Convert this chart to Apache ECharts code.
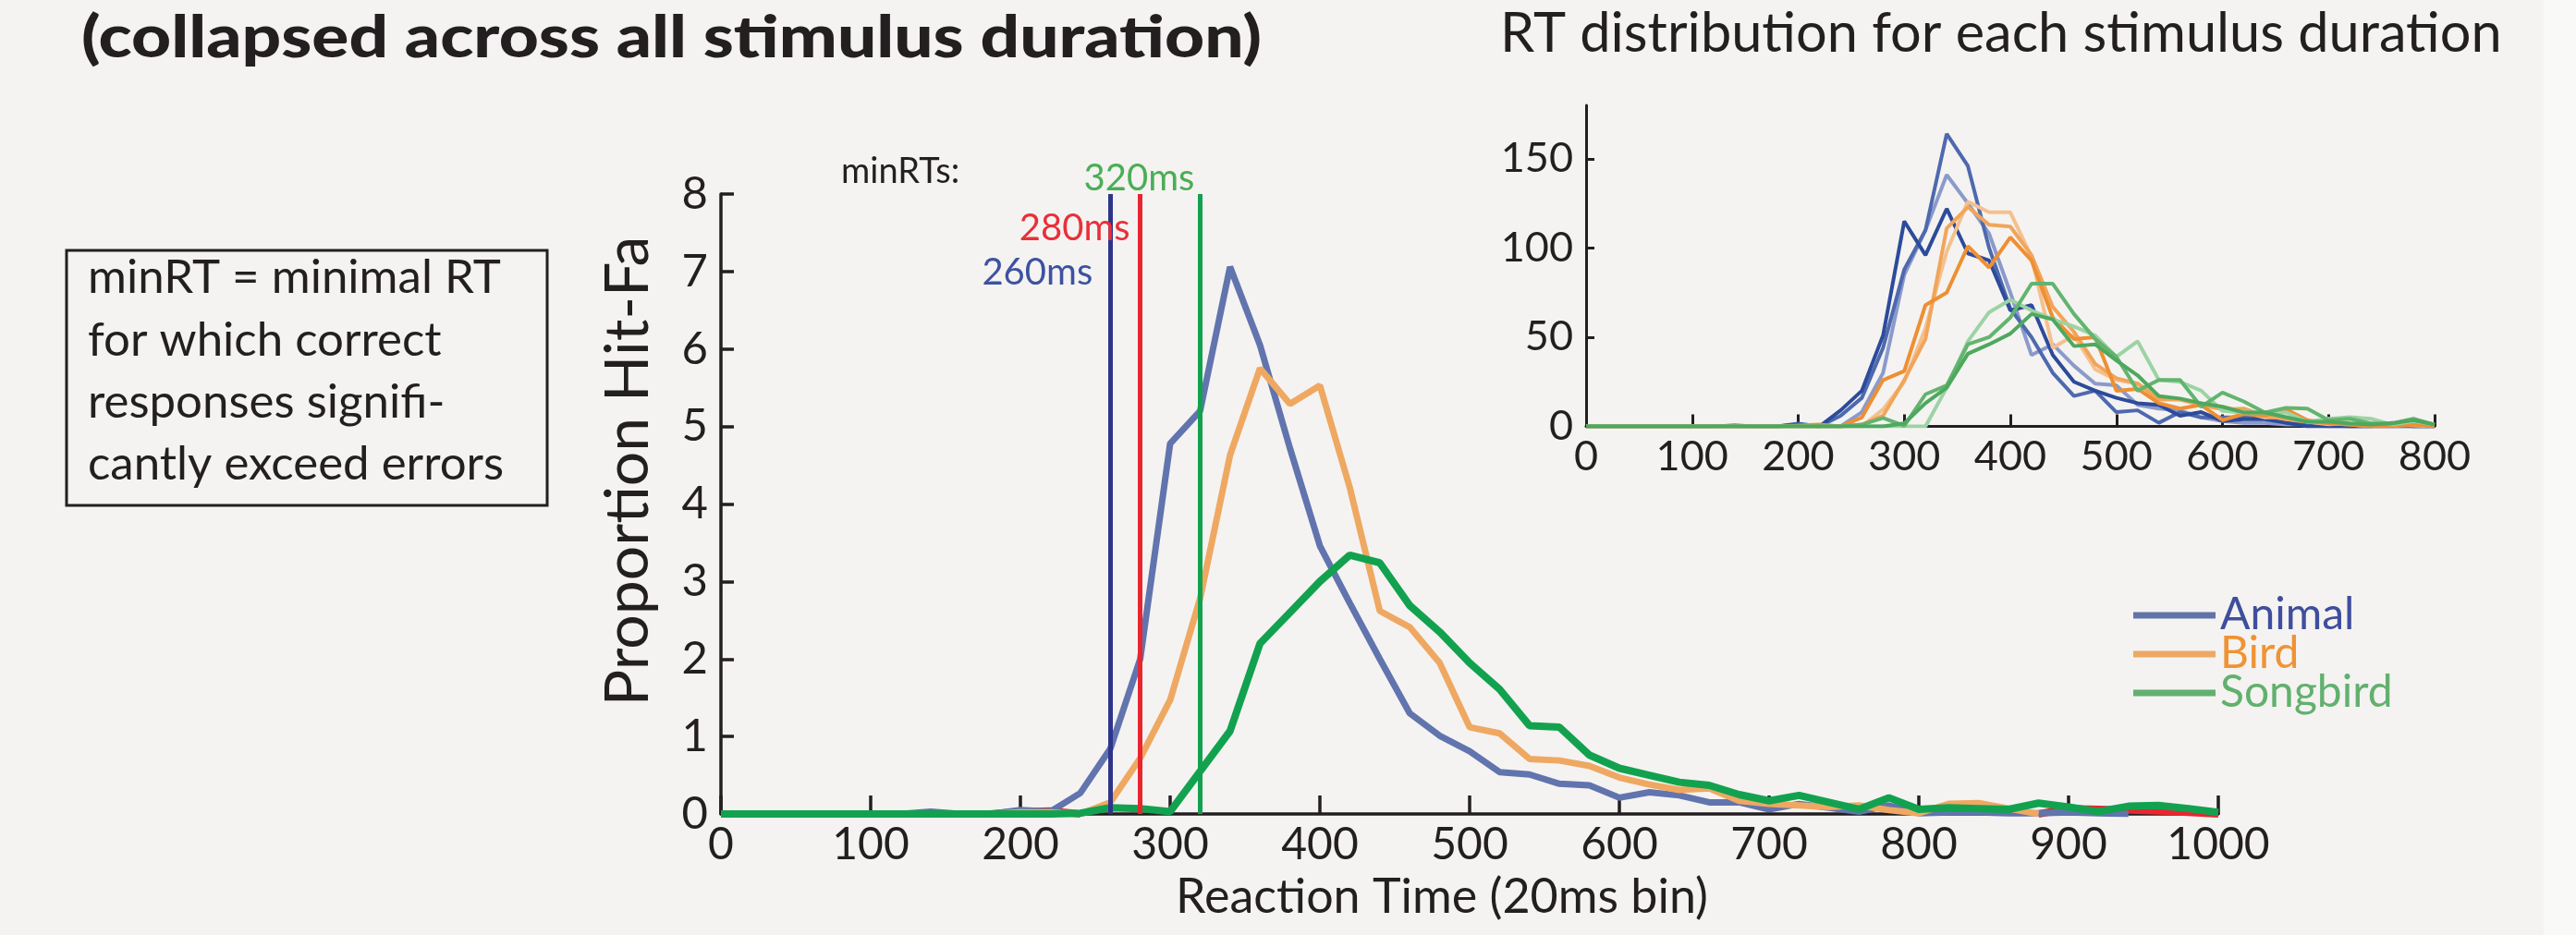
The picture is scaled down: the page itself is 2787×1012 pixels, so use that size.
<!DOCTYPE html>
<html>
<head>
<meta charset="utf-8">
<title>minRT</title>
<script src="https://cdn.jsdelivr.net/npm/echarts@6/dist/echarts.min.js"></script>
<style>
  html, body { margin: 0; padding: 0; background: #f4f3f1; }
  #chart { width: 2787px; height: 1012px; }
</style>
</head>
<body>
<div id="chart"></div>
<script>
// reaction time bins (ms), 20ms each
var rtBins = [0,20,40,60,80,100,120,140,160,180,200,220,240,260,280,300,320,340,360,380,400,
  420,440,460,480,500,520,540,560,580,600,620,640,660,680,700,720,740,760,780,800,
  820,840,860,880,900,920,940,960,980,1000];

// main plot: proportion hit - fa
var animal = [0,0,0,0,0,0,0,0.03,0,0,0.05,0.03,0.27,0.84,2.0,4.78,5.2,7.06,6.05,4.72,3.46,
  2.72,2.0,1.30,1.01,0.81,0.54,0.51,0.39,0.37,0.21,0.28,0.24,0.15,0.15,0.06,0.13,0.08,0.03,0.11,0.01,
  0.02,0.02,0.01,0.01,0.02,0.01,0,null,null,null];
var bird = [0,0,0,0,0,0,0,0,0,0,0.02,0.02,0,0.15,0.72,1.47,2.78,4.63,5.75,5.29,5.53,
  4.21,2.62,2.41,1.95,1.12,1.04,0.71,0.69,0.62,0.47,0.38,0.31,0.33,0.17,0.13,0.11,0.09,0.11,0.05,0.01,
  0.13,0.14,0.07,0,null,null,null,null,null,null];
var songbird = [0,0,0,0,0,0,0,0,0,0,0,0,0.01,0.08,0.07,0.03,0.55,1.07,2.2,2.6,3.0,
  3.34,3.24,2.69,2.35,1.95,1.61,1.14,1.12,0.76,0.59,0.50,0.41,0.37,0.25,0.17,0.24,0.15,0.06,0.21,0.06,
  0.08,0.07,0.06,0.14,0.09,0.03,0.10,0.11,0.07,0.02];
var errors = [null,null,null,null,null,null,null,null,null,0,0.03,0.04,0,null,null,null,null,null,null,null,null,
  null,null,null,null,null,null,null,null,null,null,null,null,null,null,null,null,null,null,null,null,
  null,null,null,0,0.07,0.06,0.05,0.04,0.02,0];

var minRTs = [260, 280, 320];

// inset: RT counts per stimulus duration, bins 0..800
var insetBins = rtBins.slice(0, 41);
var animalDur1 = [0,0,0,0,0,0,0,0.5,0,0,1,0,9,20,51,115,96,122,97,93,65,68,40,25,20,16,13,12,6,8,3,4,4,2,0,0,0,0,2,0,0];
var animalDur2 = [0,0,0,0,0,0,0,0,0,0,1.5,0,6,16,44,88,110,164,146,100,66,50,30,17,20,8,9,2,8,5,5,5,5,2,1,1,0,0,0,0,0];
var animalDur3 = [0,0,0,0,0,0,0,0,0,0,0,0,0,8,30,85,110,141,125,108,75,40,46,34,24,23,12,10,9,5,3,2,2,1,1,0,0,0,0,0,0];
var birdDur1 = [0,0,0,0,0,0,0,0,0,0,0.5,1,0,5,26,31,68,75,101,89,106,93,61,49,50,20,21,13,10,12,3.5,7,6,9.5,3.5,1.7,1,0,0,1,0];
var birdDur2 = [0,0,0,0,0,0,0,0,0,0,0,0,0,1,6,26,49,111,123,113,112,96,67,53,35,27,24,15,15,12,9.5,10,6,4,2.6,1.7,1,0,1.5,1.5,0];
var birdDur3 = [0,0,0,0,0,0,0,0,0,0,0,0,0,0,9.5,25,55,98,126,120,120,95,44,51,32,26,24,17,15,13,11,8,5,5,2.6,1.2,1.7,0,1,0.5,0];
var songDur1 = [0,0,0,0,0,0,0,0,0,0,0,0,0,1,4.7,0.3,18,23,46,50,61,80,80,63,49,39,20,26,26,11,19,14,7.8,10.4,10,3.5,4.3,1.7,1.7,4.3,1];
var songDur2 = [0,0,0,0,0,0,0,0,0,0,0,0,0,0,0,1.7,13,21.7,40.7,46,52,63,60,45,46,37,28.6,17,15.6,13,11,7.8,7.8,5.2,2.6,2.6,1.7,1,1.7,3.5,1];
var songDur3 = [0,0,0,0,0,0,0,0,0,0,0,0,0,0,0,0,0,21.7,47.7,64,71,65,60,56,51,39,47.7,26,25,20,8.7,7.8,7.8,7.8,2.6,4.3,5.2,4.3,1,3,1];
var insetTicks = [0, 50, 100, 150];

var FONT = 'Lato';
var INK = '#231f20';
var minRTColors = ['#2e358a', '#e8262e', '#12a24f'];
var minRTTextColors = ['#3d52a0', '#e8303a', '#4aae55'];

function pairs(xs, ys) {
  return xs.map(function (x, i) { return [x, ys[i]]; });
}

function mainLine(name, ys, color, width) {
  return {
    name: name, type: 'line', xAxisIndex: 0, yAxisIndex: 0,
    data: pairs(rtBins, ys), showSymbol: false, connectNulls: false,
    lineStyle: { color: color, width: width }, itemStyle: { color: color }
  };
}

function insetLine(ys, color) {
  return {
    type: 'line', xAxisIndex: 1, yAxisIndex: 1,
    data: pairs(insetBins, ys), showSymbol: false,
    lineStyle: { color: color, width: 4 }, itemStyle: { color: color }
  };
}

var chart = echarts.init(document.getElementById('chart'));

var axisLine = { lineStyle: { color: INK, width: 3.5 } };
var plain = function (v) { return String(v); };

chart.setOption({
  backgroundColor: '#f4f3f1',
  animation: false,
  textStyle: { fontFamily: FONT },
  grid: [
    { left: 780, top: 210, width: 1620, height: 671 },
    { left: 1716, top: 114, width: 918, height: 347.5 }
  ],
  xAxis: [
    {
      type: 'value', gridIndex: 0, min: 0, max: 1000, interval: 100,
      splitLine: { show: false }, axisLine: axisLine,
      axisTick: { inside: true, length: 20, lineStyle: { color: INK, width: 3.5 } },
      axisLabel: { color: INK, fontSize: 48, fontFamily: FONT, margin: 10, formatter: plain }
    },
    {
      type: 'value', gridIndex: 1, min: 0, max: 800, interval: 100,
      splitLine: { show: false }, axisLine: { lineStyle: { color: INK, width: 3 } },
      axisTick: { inside: true, length: 13, lineStyle: { color: INK, width: 3 } },
      axisLabel: { color: INK, fontSize: 45, fontFamily: FONT, margin: 10, formatter: plain }
    }
  ],
  yAxis: [
    {
      type: 'value', gridIndex: 0, min: 0, max: 8, interval: 1,
      splitLine: { show: false }, axisLine: Object.assign({ show: true }, axisLine),
      axisTick: { show: true, inside: true, length: 14, lineStyle: { color: INK, width: 3.5 } },
      axisLabel: { color: INK, fontSize: 49, fontFamily: FONT, margin: 14 }
    },
    {
      type: 'value', gridIndex: 1, min: 0, max: 180, interval: 50,
      splitLine: { show: false }, axisLine: { show: true, lineStyle: { color: INK, width: 3 } },
      axisTick: { show: true, inside: true, length: 9, customValues: insetTicks, lineStyle: { color: INK, width: 3 } },
      axisLabel: { color: INK, fontSize: 45, fontFamily: FONT, margin: 14, customValues: insetTicks }
    }
  ],
  legend: {
    orient: 'vertical', left: 2308, top: 642, padding: 0, itemGap: -6,
    icon: 'rect', itemWidth: 89, itemHeight: 7,
    textStyle: { fontSize: 48, fontFamily: FONT, lineHeight: 43.5 },
    data: [
      { name: 'Animal', itemStyle: { color: '#6174a8' }, textStyle: { color: '#3f4e9c' } },
      { name: 'Bird', itemStyle: { color: '#eda865' }, textStyle: { color: '#ef9335' } },
      { name: 'Songbird', itemStyle: { color: '#62b070' }, textStyle: { color: '#62b06e' } }
    ]
  },
  series: [
    mainLine('errors', errors, '#e8262e', 8),
    mainLine('Animal', animal, '#6174ae', 7),
    mainLine('Bird', bird, '#efa862', 7),
    mainLine('Songbird', songbird, '#12a24f', 8),
    {
      name: 'minRT', type: 'line', xAxisIndex: 0, yAxisIndex: 0, data: [], z: 5,
      markLine: {
        silent: true, symbol: ['none', 'none'], label: { show: false },
        lineStyle: { width: 5, type: 'solid' },
        data: minRTs.map(function (v, i) {
          return { xAxis: v, lineStyle: { color: minRTColors[i], width: 5, type: 'solid' } };
        })
      }
    },
    insetLine(animalDur3, '#8a9acb'),
    insetLine(animalDur2, '#4e69ae'),
    insetLine(animalDur1, '#2d4b9b'),
    insetLine(birdDur3, '#f5c08e'),
    insetLine(birdDur2, '#f1a55a'),
    insetLine(birdDur1, '#ee8f33'),
    insetLine(songDur3, '#9dd3a4'),
    insetLine(songDur1, '#63b46f'),
    insetLine(songDur2, '#4ea85e')
  ]
});

// text annotations; minRT labels anchored to their lines
var labelDy = [97, 49, -5];   // baseline offset below top of line
var labelDx = [19, 11, 6];    // right edge offset left of line
var top8 = chart.convertToPixel({ xAxisIndex: 0, yAxisIndex: 0 }, [0, 8])[1];
var minRTLabels = minRTs.map(function (v, i) {
  var px = chart.convertToPixel({ xAxisIndex: 0, yAxisIndex: 0 }, [v, 8])[0];
  return {
    type: 'text', x: px - labelDx[i], y: top8 + labelDy[i] - 12, z: 10,
    style: { text: v + 'ms', fill: minRTTextColors[i], fontSize: 40, fontFamily: FONT, align: 'right', verticalAlign: 'middle' }
  };
});

function txt(x, y, s, size, extra) {
  return {
    type: 'text', x: x, y: y, z: 10,
    style: Object.assign({ text: s, fill: INK, fontSize: size, fontFamily: FONT, align: 'left', verticalAlign: 'middle' }, extra || {})
  };
}

// heavy title is wider in the original face: stretch to its width
var titleText = '(collapsed across all stimulus duration)';
var ctx = document.createElement('canvas').getContext('2d');
ctx.font = '900 62px ' + FONT;
var titleScale = 1277 / ctx.measureText(titleText).width;
var title = txt(88, 42, titleText, 62, { fontWeight: 900 });
title.scaleX = titleScale;

var boxLines = ['minRT = minimal RT', 'for which correct', 'responses signifi-', 'cantly exceed errors'];
var boxBaselines = [317, 385, 452, 519];

chart.setOption({
  graphic: [
    { type: 'rect', shape: { x: 2752, y: 0, width: 35, height: 1012 }, style: { fill: '#f9f9f8' }, z: 0 },
    title,
    txt(1623, 37, 'RT distribution for each stimulus duration', 59.5),
    { type: 'rect', shape: { x: 72, y: 271, width: 520, height: 276 }, style: { fill: 'none', stroke: INK, lineWidth: 3 }, z: 10 },
    txt(95, boxBaselines[0] - 16, boxLines[0], 51),
    txt(95, boxBaselines[1] - 16, boxLines[1], 51),
    txt(95, boxBaselines[2] - 16, boxLines[2], 51),
    txt(95, boxBaselines[3] - 16, boxLines[3], 51),
    txt(910, 186, 'minRTs:', 38),
    {
      type: 'text', x: 680, y: 510, rotation: Math.PI / 2, z: 10,
      style: { text: 'Proportion Hit-Fa', fill: INK, fontSize: 66, fontFamily: FONT, align: 'center', verticalAlign: 'middle' }
    },
    txt(1560, 971, 'Reaction Time (20ms bin)', 52, { align: 'center' })
  ].concat(minRTLabels)
});
</script>
</body>
</html>
